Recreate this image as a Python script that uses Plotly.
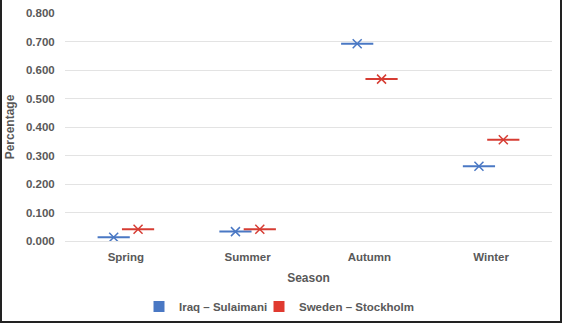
import plotly.graph_objects as go

seasons = ["Spring", "Summer", "Autumn", "Winter"]
iraq = [0.013, 0.033, 0.692, 0.262]
sweden = [0.041, 0.041, 0.568, 0.355]
series_names = ["Iraq – Sulaimani", "Sweden – Stockholm"]
colors = ["#4A78C4", "#D63C33"]
legend_colors = ["#4A78C4", "#E03A30"]
y_ticks = [0.0, 0.1, 0.2, 0.3, 0.4, 0.5, 0.6, 0.7, 0.8]

W, H = 562, 323
ML, MR, MT, MB = 65, 10, 13, 82
PW, PH = W - ML - MR, H - MT - MB
FONT = "Liberation Sans"
GRAY = "#595959"

fig = go.Figure()
for name, vals, col, lcol, grp, leg in zip(series_names, [iraq, sweden], colors, legend_colors, ["a", "b"], ["legend", "legend2"]):
    fig.add_trace(go.Scatter(
        x=seasons, y=vals, mode="markers", offsetgroup=grp, showlegend=False,
        marker=dict(symbol="line-ew", size=23, line=dict(color=col, width=2)),
        hoverinfo="skip"))
    fig.add_trace(go.Scatter(
        x=seasons, y=vals, mode="markers", offsetgroup=grp, showlegend=False,
        marker=dict(symbol="x-thin", size=9, line=dict(color=col, width=1.5)),
        name=name))
    fig.add_trace(go.Scatter(
        x=[None], y=[None], mode="markers", offsetgroup=grp, name=name, legend=leg,
        marker=dict(symbol="square", size=11, color=lcol)))

px = lambda p: p / PW
py = lambda p: p / PH
border = dict(color="#222222", width=2)
fig.add_shape(type="line", xref="paper", yref="paper", x0=px(-ML + 1), x1=px(-ML + 1), y0=py(-MB), y1=py(PH + MT), line=border)
fig.add_shape(type="line", xref="paper", yref="paper", x0=px(PW + MR - 1), x1=px(PW + MR - 1), y0=py(-MB), y1=py(PH + MT), line=border)
fig.add_shape(type="line", xref="paper", yref="paper", x0=px(-ML), x1=px(PW + MR), y0=py(-MB + 1), y1=py(-MB + 1), line=border)

tick_font = dict(family=FONT, size=11.5, color=GRAY, weight="bold")
title_font = dict(family=FONT, size=12, color=GRAY, weight="bold")
legend_font = dict(family=FONT, size=11.5, color=GRAY, weight="bold")

def legend_at(left_px):
    return dict(orientation="h", x=px(left_px - ML), xanchor="left",
                y=py(-(292 - MT - PH)), yanchor="top",
                font=legend_font, itemsizing="trace", itemwidth=30,
                bgcolor="rgba(0,0,0,0)")

fig.update_layout(
    width=W, height=H,
    margin=dict(l=ML, r=MR, t=MT, b=MB, autoexpand=False),
    paper_bgcolor="white", plot_bgcolor="white",
    scattermode="group", scattergap=0.6,
    font=dict(family=FONT, size=11, color=GRAY),
    showlegend=True,
    legend=legend_at(139),
    legend2=legend_at(259),
    xaxis=dict(
        type="category", showgrid=False, showline=False, zeroline=False, automargin=False,
        tickfont=tick_font,
        ticks="outside", ticklen=5, tickcolor="white",
        title=dict(text="Season", font=title_font, standoff=11),
    ),
    yaxis=dict(
        range=[0, 0.8], tickvals=y_ticks, tickformat=".3f", automargin=False,
        showgrid=True, gridcolor="#E3E3E3", gridwidth=1,
        showline=False, zeroline=True, zerolinecolor="#E3E3E3", zerolinewidth=1,
        tickfont=tick_font,
        ticks="outside", ticklen=7, tickcolor="white",
        title=dict(text="Percentage", font=title_font, standoff=8),
    ),
)

fig.write_html("out.html")
